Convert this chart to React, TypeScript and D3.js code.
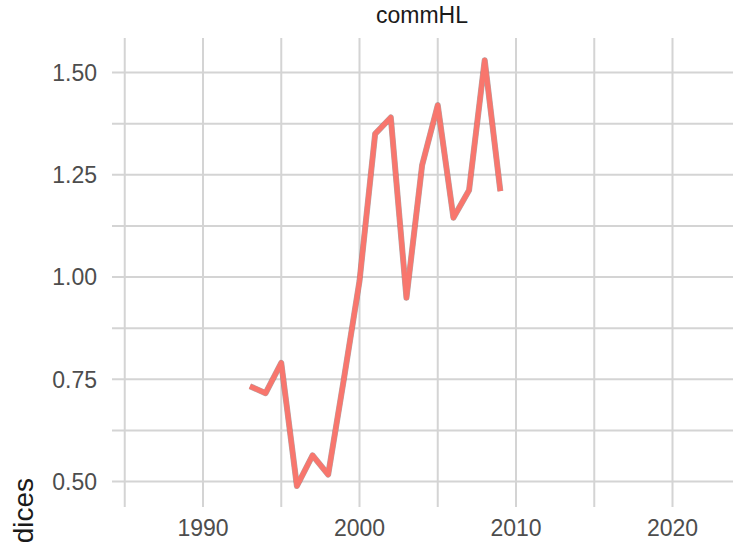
import * as d3 from 'd3';

const years = [1993, 1994, 1995, 1996, 1997, 1998, 1999, 2000, 2001, 2002, 2003, 2004, 2005, 2006, 2007, 2008, 2009];
const values = [0.733, 0.716, 0.79, 0.489, 0.564, 0.517, 0.75, 0.99, 1.35, 1.39, 0.949, 1.273, 1.42, 1.145, 1.212, 1.53, 1.21];
const xTicks = [1990, 2000, 2010, 2020];
const xGrid = [1985, 1990, 1995, 2000, 2005, 2010, 2015, 2020];
const yTicks = [0.5, 0.75, 1.0, 1.25, 1.5];
const yGrid = [0.5, 0.625, 0.75, 0.875, 1.0, 1.125, 1.25, 1.375, 1.5];
const title = 'commHL';
const yTitle = 'Indices';

export default function App() {
  const W = 733;
  const H = 545;
  const left = 112;
  const right = 733;
  const top = 38;
  const bottom = 507;

  // 1990 -> 203, 2000 -> 359.5
  const x = d3.scaleLinear().domain([1990, 2000]).range([203, 359.5]);
  const y = d3.scaleLinear().domain([0.5, 1.5]).range([481.5, 72.5]);

  const pts: [number, number][] = years.map((yr, i) => [yr, values[i]]);
  const line = d3.line<[number, number]>()
    .x(d => x(d[0]))
    .y(d => y(d[1]));
  const path = line(pts) || '';

  return (
    <svg width={W} height={H} style={{ position: 'absolute', left: 0, top: 0, background: '#fff' }}
      fontFamily="Liberation Sans, Arial, sans-serif">
      {/* grid */}
      {yGrid.map(v => (
        <line key={'h' + v} x1={left} x2={right} y1={y(v)} y2={y(v)}
          stroke="#d4d4d4" strokeWidth={2} />
      ))}
      {xGrid.map(v => (
        <line key={'v' + v} x1={x(v)} x2={x(v)} y1={top} y2={bottom}
          stroke="#d4d4d4" strokeWidth={2} />
      ))}

      {/* series */}
      <path d={path} fill="none" stroke="#6b4a4a" strokeWidth={6} strokeLinejoin="round" strokeOpacity={0.5} />
      <path d={path} fill="none" stroke="#F8766D" strokeWidth={5} strokeLinejoin="round" />

      {/* y ticks */}
      {yTicks.map(v => (
        <text key={'yt' + v} x={97} y={y(v)} dy="0.36em" textAnchor="end"
          fontSize={23} fill="#4d4d4d">{v.toFixed(2)}</text>
      ))}
      {/* x ticks */}
      {xTicks.map(v => (
        <text key={'xt' + v} x={x(v)} y={536} textAnchor="middle"
          fontSize={23} fill="#4d4d4d">{v}</text>
      ))}

      <text x={422} y={23} textAnchor="middle" fontSize={23} fill="#1a1a1a">{title}</text>
      <text transform="translate(33, 478) rotate(-90)" textAnchor="end"
        fontSize={28} fill="#1a1a1a">{yTitle}</text>
    </svg>
  );
}
